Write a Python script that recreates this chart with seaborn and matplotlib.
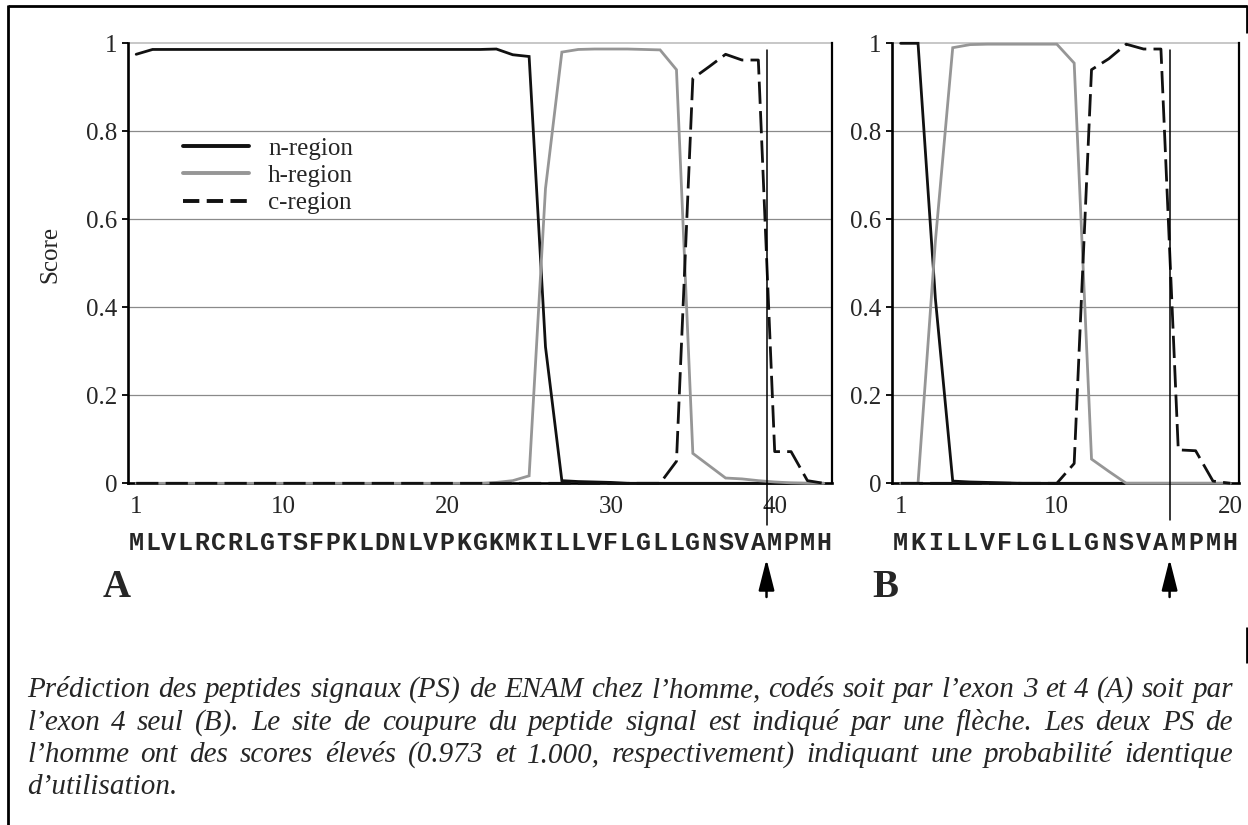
import numpy as np
import pandas as pd
import matplotlib
matplotlib.use("Agg")
import matplotlib.pyplot as plt
import seaborn as sns
from matplotlib.lines import Line2D
from matplotlib.patches import ArrowStyle
from matplotlib.transforms import blended_transform_factory as btf

# ---------------- data ----------------
seq_A = "MLVLRCRLGTSFPKLDNLVPKGKMKILLVFLGLLGNSVAMPMH"
seq_B = "MKILLVFLGLLGNSVAMPMH"
regions = ["n-region", "h-region", "c-region"]

n_A = [0.975, 0.986, 0.986, 0.986, 0.986, 0.986, 0.986, 0.986, 0.986, 0.986,
       0.986, 0.986, 0.986, 0.986, 0.986, 0.986, 0.986, 0.986, 0.986, 0.986,
       0.986, 0.986, 0.987, 0.974, 0.970, 0.31, 0.006, 0.004, 0.003, 0.002,
       0.0, 0.0, 0.0, 0.0, 0.0, 0.0, 0.0, 0.0, 0.0, 0.0, 0.0, 0.0, 0.0]
h_A = [0.0, 0.0, 0.0, 0.0, 0.0, 0.0, 0.0, 0.0, 0.0, 0.0,
       0.0, 0.0, 0.0, 0.0, 0.0, 0.0, 0.0, 0.0, 0.0, 0.0,
       0.0, 0.0, 0.002, 0.006, 0.017, 0.67, 0.98, 0.986, 0.987, 0.987,
       0.987, 0.986, 0.985, 0.94, 0.068, 0.04, 0.012, 0.01, 0.006, 0.003,
       0.001, 0.0, 0.0]
c_A = [0.0, 0.0, 0.0, 0.0, 0.0, 0.0, 0.0, 0.0, 0.0, 0.0,
       0.0, 0.0, 0.0, 0.0, 0.0, 0.0, 0.0, 0.0, 0.0, 0.0,
       0.0, 0.0, 0.0, 0.0, 0.0, 0.0, 0.0, 0.0, 0.0, 0.0,
       0.0, 0.0, 0.0, 0.05, 0.92, 0.947, 0.975, 0.962, 0.962, 0.072,
       0.072, 0.006, 0.0]

n_B = [1.0, 1.0, 0.42, 0.005, 0.003, 0.002, 0.001, 0.0, 0.0, 0.0,
       0.0, 0.0, 0.0, 0.0, 0.0, 0.0, 0.0, 0.0, 0.0, 0.0]
h_B = [0.0, 0.0, 0.55, 0.99, 0.997, 0.998, 0.998, 0.998, 0.998, 0.998,
       0.955, 0.055, 0.027, 0.0, 0.0, 0.0, 0.0, 0.0, 0.0, 0.0]
c_B = [0.0, 0.0, 0.0, 0.0, 0.0, 0.0, 0.0, 0.0, 0.0, 0.0,
       0.045, 0.94, 0.965, 0.998, 0.987, 0.987, 0.076, 0.074, 0.005, 0.0]

cleave_A = 39   # cleavage after residue 39 (A|M)
cleave_B = 16
xtick_A = [1, 10, 20, 30, 40]
xtick_B = [1, 10, 20]
ytick_vals = [0, 0.2, 0.4, 0.6, 0.8, 1.0]
ytick_labels = ["0", "0.2", "0.4", "0.6", "0.8", "1"]

caption_lines = [
    "Prédiction des peptides signaux (PS) de ENAM chez l’homme, codés soit par l’exon 3 et 4 (A) soit par",
    "l’exon 4 seul (B). Le site de coupure du peptide signal est indiqué par une flèche. Les deux PS de",
    "l’homme ont des scores élevés (0.973 et 1.000, respectivement) indiquant une probabilité identique",
    "d’utilisation.",
]

# ---------------- style ----------------
sns.set_style("white")
plt.rcParams["font.family"] = ["Liberation Serif", "DejaVu Serif"]

W, H = 1248, 825
fig = plt.figure(figsize=(W / 100, H / 100), dpi=100)
fig.patch.set_facecolor("white")

def fx(px):
    return px / W

def fy(py):
    return 1 - py / H

palette = {"n-region": "#111111", "h-region": "#969696", "c-region": "#111111"}
dash_map = {"n-region": "", "h-region": "", "c-region": (8, 2.6)}

axA = fig.add_axes([fx(128), fy(483.3), fx(704), 440 / H])
axB = fig.add_axes([fx(892), fy(483.3), fx(347), 440 / H])


def make_df(seq, n, h, c):
    pos = np.arange(1, len(seq) + 1)
    return pd.DataFrame({
        "pos": np.concatenate([pos, pos, pos]),
        "score": np.array(n + h + c, dtype=float),
        "region": ["n-region"] * len(pos) + ["h-region"] * len(pos) + ["c-region"] * len(pos),
    })


def draw_panel(ax, seq, n, h, c, xticks, cleave, letter, letter_x):
    df = make_df(seq, n, h, c)
    sns.lineplot(data=df, x="pos", y="score", hue="region", style="region",
                 hue_order=regions, style_order=regions,
                 palette=palette, dashes=dash_map, linewidth=2.0,
                 estimator=None, legend=False, ax=ax, zorder=3)
    for ln in ax.lines:
        ln.set_clip_on(False)
        ln.set_solid_joinstyle("miter")
    N = len(seq)
    ax.set_xlim(0.5, N + 0.5)
    ax.set_ylim(0, 1)
    ax.set_xlabel("")
    ax.set_ylabel("")
    ax.set_yticks(ytick_vals)
    ax.set_yticklabels(ytick_labels)
    ax.set_xticks(xticks)
    ax.set_xticklabels([str(v) for v in xticks])
    ax.set_xticks(np.arange(0.5, N + 1, 1), minor=True)
    ax.tick_params(axis="x", which="major", length=0, pad=9, labelsize=18)
    ax.tick_params(axis="x", which="minor", length=5, width=1.1, direction="out", color="black")
    ax.tick_params(axis="y", which="major", length=4.5, width=1.3, direction="out",
                   pad=3, labelsize=18, color="black", left=True)
    for yv in [0.2, 0.4, 0.6, 0.8]:
        ax.axhline(yv, color="#8a8a8a", lw=0.9, zorder=0)
    ax.axhline(1.0, color="#bdbdbd", lw=1.2, zorder=0, clip_on=False)
    ax.spines["top"].set_visible(False)
    for s in ["left", "bottom"]:
        ax.spines[s].set_linewidth(1.9)
        ax.spines[s].set_color("black")
    ax.spines["right"].set_linewidth(1.6)
    ax.spines["right"].set_color("black")
    ax.set_facecolor("white")

    tr = btf(ax.transData, fig.transFigure)
    # cleavage line
    x_cut = cleave + 0.5
    ax.plot([x_cut, x_cut], [0.985, -0.095 if letter == "A" else -0.083],
            color="black", lw=1.1, clip_on=False, zorder=4)
    # sequence letters
    for i, ch in enumerate(seq):
        ax.text(i + 1, fy(550), ch, transform=tr, ha="center", va="baseline",
                family="Liberation Mono", weight="bold", fontsize=18, clip_on=False)
    # arrow
    ax.annotate("", xy=(x_cut, fy(559)), xytext=(x_cut, fy(597)),
                xycoords=tr, textcoords=tr,
                arrowprops=dict(arrowstyle=ArrowStyle("-|>", head_length=0.95, head_width=0.24),
                                mutation_scale=20, color="black", lw=1.8,
                                shrinkA=0, shrinkB=0))
    fig.text(fx(letter_x), fy(597), letter, fontsize=28, weight="bold",
             family="Liberation Serif", ha="left", va="baseline")


draw_panel(axA, seq_A, n_A, h_A, c_A, xtick_A, cleave_A, "A", 103)
draw_panel(axB, seq_B, n_B, h_B, c_B, xtick_B, cleave_B, "B", 872)

axA.set_ylabel("Score", fontsize=18, family="Liberation Serif")
axA.yaxis.set_label_coords(-0.094, 0.52)

handles = [
    Line2D([], [], color="#111111", lw=2.8),
    Line2D([], [], color="#969696", lw=2.8),
    Line2D([], [], color="#111111", lw=2.8, dashes=(4.2, 1.9)),
]
axA.legend(handles, regions, loc="upper left",
           bbox_to_anchor=(fx(183), fy(137)), bbox_transform=fig.transFigure,
           frameon=False, borderpad=0, borderaxespad=0, handlelength=2.64,
           handletextpad=0.76, labelspacing=0.2,
           prop=dict(family="Liberation Serif", size=18))

# ---------------- page frame ----------------
frame_kw = dict(transform=fig.transFigure, color="black", lw=2.0, solid_capstyle="butt")
fig.add_artist(Line2D([fx(8), fx(1247)], [fy(5.5), fy(5.5)], **frame_kw))
fig.add_artist(Line2D([fx(8), fx(8)], [fy(5), fy(825)], **frame_kw))
fig.add_artist(Line2D([fx(1246.5), fx(1246.5)], [fy(5), fy(33)], **frame_kw))
fig.add_artist(Line2D([fx(1246.5), fx(1246.5)], [fy(627), fy(663)], **frame_kw))

# ---------------- justified caption ----------------
fig.canvas.draw()
renderer = fig.canvas.get_renderer()
left_px, right_px = 27, 1233
baselines = [697, 729.5, 762, 794]
for li, line in enumerate(caption_lines):
    words = line.split(" ")
    texts = [fig.text(0, fy(baselines[li]), w, fontsize=21, style="italic",
                      family="Liberation Serif", ha="left", va="baseline") for w in words]
    widths = [t.get_window_extent(renderer).width for t in texts]
    if li < len(caption_lines) - 1 and len(words) > 1:
        gap = (right_px - left_px - sum(widths)) / (len(words) - 1)
    else:
        gap = 6.0
    x = left_px
    for t, wd in zip(texts, widths):
        t.set_x(fx(x))
        x += wd + gap

fig.savefig("out.png", dpi=100, facecolor="white")
